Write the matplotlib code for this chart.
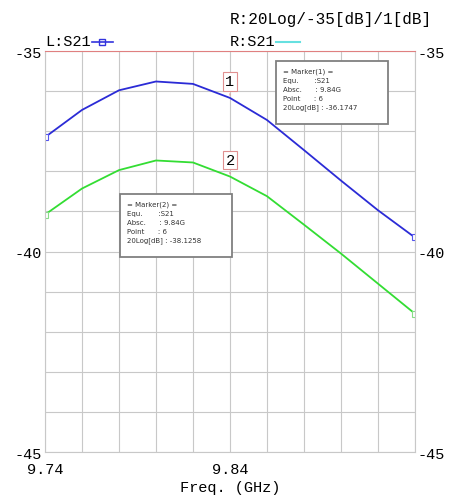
import matplotlib
matplotlib.use("Agg")
import matplotlib.pyplot as plt
from matplotlib.patches import Rectangle

# data
freq = [9.74, 9.76, 9.78, 9.80, 9.82, 9.84, 9.86, 9.88, 9.90, 9.92, 9.94]
s21_blue = [-37.15, -36.47, -35.98, -35.76, -35.82, -36.17, -36.72, -37.47, -38.23, -38.97, -39.65]
s21_green = [-39.08, -38.43, -37.97, -37.73, -37.78, -38.13, -38.62, -39.33, -40.05, -40.8, -41.55]
marker_x = 9.84
marker1_txt = ["= Marker(1) =", "Equ.       :S21", "Absc.      : 9.84G", "Point      : 6", "20Log[dB] : -36.1747"]
marker2_txt = ["= Marker(2) =", "Equ.       :S21", "Absc.      : 9.84G", "Point      : 6", "20Log[dB] : -38.1258"]

plt.rcParams['font.family'] = ['Liberation Mono', 'DejaVu Sans Mono']

fig = plt.figure(figsize=(4.5, 5.02), dpi=100)
ax = fig.add_axes([0.1, 0.0976, 0.822, 0.7988])

ax.plot(freq, s21_blue, color='#2b2bd6', lw=1.3)
ax.plot(freq, s21_green, color='#33dd33', lw=1.3)
# end squares
ax.plot([freq[0], freq[-1]], [s21_blue[0], s21_blue[-1]], 's', ms=5, mfc='white', mec='#5555ee', mew=0.8)
ax.plot([freq[0], freq[-1]], [s21_green[0], s21_green[-1]], 's', ms=5, mfc='white', mec='#88dd88', mew=0.8)

ax.set_xlim(9.74, 9.94)
ax.set_ylim(-45, -35)
ax.set_xticks([9.74 + 0.02 * i for i in range(11)])
ax.set_yticks(range(-45, -34))
ax.set_xticklabels(["9.74", "", "", "", "", "9.84", "", "", "", "", ""], fontsize=11)
ax.set_yticklabels(["-45", "", "", "", "", "-40", "", "", "", "", "-35"], fontsize=11)
ax.tick_params(length=0)
ax.tick_params(axis='x', pad=7)
ax.tick_params(axis='y', pad=2, right=True, labelright=True)
ax.grid(True, color='#c8c8c8', lw=0.8)
for s in ['left', 'right', 'bottom']:
    ax.spines[s].set_color('#c8c8c8')
ax.spines['top'].set_color('#e08080')
ax.set_xlabel("Freq. (GHz)", fontsize=11, labelpad=3)

# marker flags
for y, lab in [(s21_blue[5], "1"), (s21_green[5], "2")]:
    ax.annotate(lab, (marker_x, y), xytext=(0, 12), textcoords='offset points',
                ha='center', va='center', fontsize=11,
                bbox=dict(boxstyle='square,pad=0.15', fc='white', ec='#e09090', lw=0.8),
                arrowprops=dict(arrowstyle='-', color='#e09090', lw=0.8))

# marker info boxes
for x0, y0, txt in [(0.624, 0.818, marker1_txt), (0.203, 0.486, marker2_txt)]:
    ax.add_patch(Rectangle((x0, y0), 0.303, 0.158, transform=ax.transAxes,
                           fc='white', ec='#808080', lw=1.3, zorder=5))
    ax.text(x0 + 0.02, y0 + 0.14, "\n".join(txt), transform=ax.transAxes, fontsize=5,
            family='DejaVu Sans', va='top', ha='left', linespacing=1.55, color='#333333', zorder=6)

# header
fig.text(0.51, 0.962, "R:20Log/-35[dB]/1[dB]", fontsize=11.5, ha='left', va='center')
fig.text(0.1, 0.916, "L:S21", fontsize=11, ha='left', va='center')
fig.text(0.51, 0.916, "R:S21", fontsize=11, ha='left', va='center')
fig.lines.append(plt.Line2D([0.205, 0.25], [0.914, 0.914], transform=fig.transFigure, color='#3333dd', lw=1.2))
fig.lines.append(plt.Line2D([0.227], [0.914], transform=fig.transFigure, marker='s', ms=5, mfc='none', mec='#3333dd', lw=0))
fig.lines.append(plt.Line2D([0.613, 0.667], [0.914, 0.914], transform=fig.transFigure, color='#66e0e0', lw=1.5))

fig.savefig("out.png", dpi=100)
